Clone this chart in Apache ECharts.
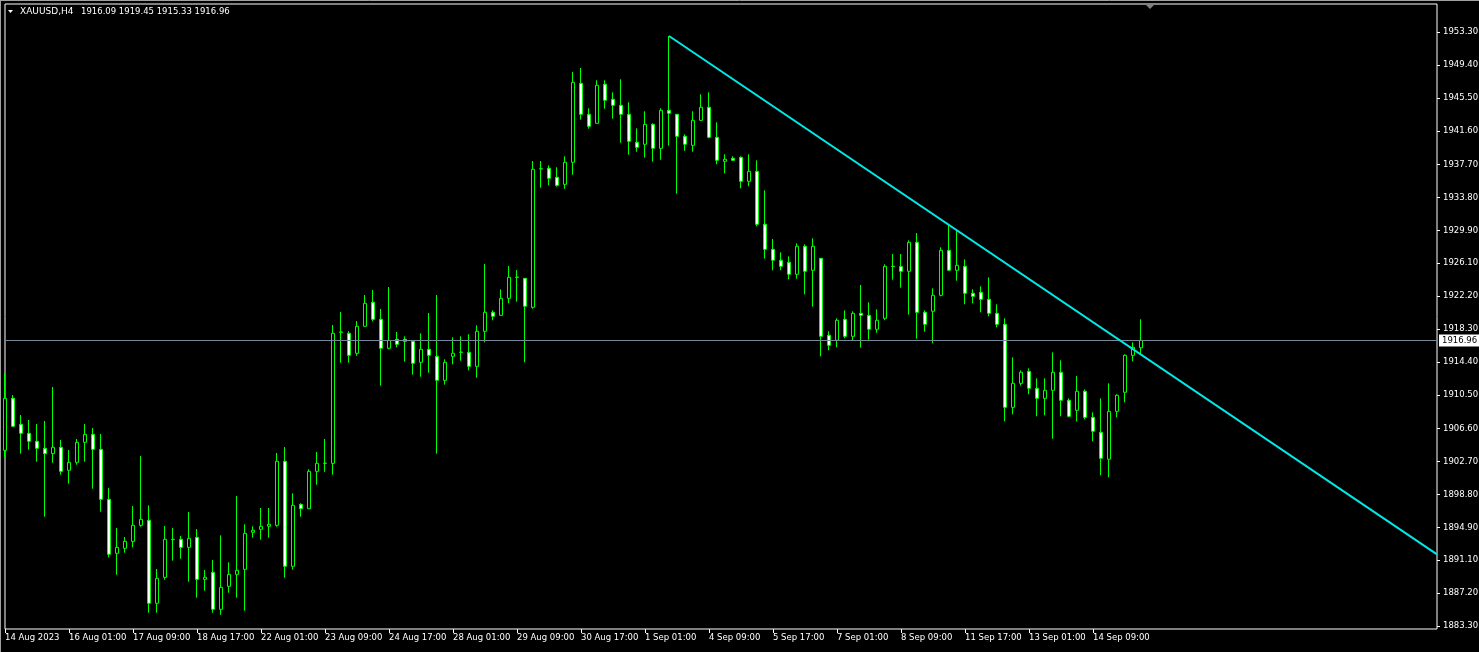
<!DOCTYPE html>
<html>
<head>
<meta charset="utf-8">
<script src="https://cdn.jsdelivr.net/npm/echarts@6/dist/echarts.min.js"></script>
<style>
html,body{margin:0;padding:0;background:#000;overflow:hidden;}
#c{width:1479px;height:652px;}
</style>
</head>
<body>
<div id="c"></div>
<script>
// ---- data (XAUUSD H4) ----
const tradingDays = ['14 Aug','15 Aug','16 Aug','17 Aug','18 Aug','21 Aug','22 Aug','23 Aug','24 Aug','25 Aug',
  '28 Aug','29 Aug','30 Aug','31 Aug','1 Sep','4 Sep','5 Sep','6 Sep','7 Sep','8 Sep',
  '11 Sep','12 Sep','13 Sep','14 Sep','15 Sep'];
const barHours = ['01:00','05:00','09:00','13:00','17:00','21:00'];
const firstLabel = '14 Aug 2023';

const opens = [1904.01,1910.13,1907.07,1906.01,1905.07,1904.24,1903.61,1904.36,1901.65,1902.59,
1904.95,1905.89,1904.12,1898.23,1891.87,1892.46,1893.28,1895.17,1895.76,1885.98,
1889.04,1893.47,1893.52,1892.57,1893.75,1888.80,1889.63,1885.27,1887.98,1889.39,
1889.98,1894.34,1894.70,1895.05,1895.17,1902.71,1890.34,1897.64,1897.12,1901.53,
1902.47,1902.47,1917.91,1917.79,1915.44,1918.62,1921.45,1919.44,1916.03,1917.09,
1917.09,1916.85,1914.38,1915.91,1915.08,1912.25,1915.08,1915.55,1915.55,1913.90,
1918.03,1920.27,1919.91,1921.92,1924.39,1924.27,1920.86,1937.16,1937.24,1936.18,
1935.35,1937.95,1947.25,1943.60,1942.54,1947.14,1945.37,1944.66,1943.60,1940.30,
1940.07,1942.42,1939.59,1944.07,1943.60,1941.01,1939.95,1942.89,1944.43,1940.89,
1938.06,1938.42,1938.53,1935.71,1936.88,1930.64,1927.69,1926.40,1926.16,1924.75,
1928.05,1925.22,1926.63,1917.56,1916.97,1919.44,1917.44,1920.15,1919.91,1918.27,
1919.56,1925.69,1925.66,1925.10,1928.52,1920.27,1920.39,1922.27,1927.57,1925.22,
1925.69,1922.51,1922.62,1921.80,1920.15,1918.85,1909.07,1911.90,1913.31,1911.31,
1910.13,1911.08,1913.20,1909.90,1908.72,1910.96,1907.89,1906.13,1902.95,1908.60,
1910.84,1915.20,1916.09];
const highs = [1913.08,1910.52,1908.17,1907.58,1907.11,1907.46,1911.47,1905.22,1904.04,1905.34,
1907.11,1906.63,1905.93,1899.56,1894.85,1893.79,1897.44,1903.33,1897.52,1890.02,
1895.09,1894.88,1893.91,1896.73,1894.73,1889.90,1891.08,1893.99,1890.81,1898.62,
1895.29,1895.05,1897.21,1897.21,1903.69,1904.39,1898.94,1897.76,1901.77,1903.81,
1905.34,1918.77,1920.30,1918.06,1919.24,1922.31,1922.90,1920.66,1923.25,1917.95,
1917.44,1916.89,1917.79,1920.19,1922.31,1914.73,1917.32,1917.44,1917.68,1918.74,
1925.96,1920.50,1922.98,1925.72,1925.25,1924.27,1938.10,1938.10,1937.59,1937.36,
1938.65,1948.59,1949.06,1944.31,1947.61,1947.61,1946.19,1947.73,1945.02,1941.95,
1943.96,1942.54,1944.31,1952.83,1943.60,1941.24,1943.96,1945.96,1946.19,1942.66,
1938.89,1938.65,1938.65,1938.89,1938.18,1934.65,1928.91,1927.34,1926.87,1928.40,
1928.28,1928.99,1926.63,1918.03,1919.56,1920.50,1920.39,1923.49,1921.45,1920.62,
1925.93,1927.14,1927.14,1928.75,1929.61,1920.50,1923.10,1927.93,1930.56,1929.85,
1926.51,1922.98,1923.33,1924.39,1921.21,1919.56,1914.96,1913.43,1913.67,1912.49,
1912.49,1915.55,1914.61,1910.13,1912.76,1911.19,1908.48,1910.13,1911.90,1910.61,
1915.32,1916.73,1919.45];
const lows = [1903.13,1906.75,1903.61,1904.08,1902.66,1896.18,1902.54,1901.13,1900.07,1902.31,
1902.66,1899.48,1896.77,1891.40,1889.35,1891.94,1892.57,1895.00,1884.87,1884.87,
1888.76,1891.00,1891.23,1888.52,1886.64,1887.46,1884.87,1884.63,1887.22,1886.64,
1885.10,1893.71,1893.47,1893.71,1895.00,1888.99,1889.94,1896.18,1897.12,1899.95,
1901.48,1901.13,1914.33,1914.33,1915.15,1918.62,1919.21,1911.62,1915.91,1916.14,
1914.45,1912.92,1912.68,1913.15,1903.61,1911.74,1914.14,1914.56,1913.43,1912.56,
1916.73,1919.33,1919.91,1921.33,1921.52,1914.38,1920.69,1934.95,1935.23,1935.07,
1934.83,1936.48,1942.97,1941.90,1942.54,1944.26,1943.08,1940.25,1938.84,1939.19,
1938.49,1938.02,1938.25,1939.90,1934.24,1939.31,1939.19,1942.89,1940.77,1937.71,
1936.65,1938.18,1934.88,1935.12,1930.40,1926.59,1925.22,1925.22,1924.16,1924.23,
1922.39,1920.93,1915.08,1915.79,1916.14,1917.20,1916.97,1916.10,1917.04,1917.86,
1919.33,1924.11,1923.17,1919.99,1917.16,1917.98,1916.62,1922.15,1925.22,1923.99,
1921.21,1921.33,1920.27,1919.80,1918.50,1907.42,1908.25,1911.62,1910.61,1908.01,
1908.13,1905.37,1908.01,1907.89,1907.42,1907.66,1905.07,1901.06,1900.82,1907.89,
1909.66,1914.49,1915.33];
const closes = [1910.13,1906.83,1906.01,1905.07,1904.24,1903.61,1904.36,1901.53,1902.59,1904.95,
1905.89,1904.12,1898.23,1891.75,1892.57,1893.28,1895.17,1895.87,1885.98,1888.92,
1893.52,1893.52,1892.57,1893.63,1888.80,1889.04,1885.27,1887.86,1889.39,1889.86,
1894.22,1894.58,1895.05,1895.29,1902.71,1890.34,1897.52,1897.12,1901.53,1902.47,
1902.50,1917.79,1917.95,1915.20,1918.62,1921.33,1919.44,1916.03,1916.97,1916.50,
1916.85,1914.26,1915.91,1915.20,1912.25,1914.38,1915.44,1915.58,1913.90,1918.03,
1920.27,1919.80,1921.92,1924.39,1924.42,1920.98,1937.12,1937.19,1936.06,1935.23,
1937.95,1947.37,1943.60,1942.19,1947.02,1945.25,1944.66,1943.60,1940.42,1939.71,
1942.42,1939.59,1944.07,1943.72,1941.01,1940.07,1942.89,1944.43,1940.89,1938.18,
1938.30,1938.18,1935.71,1936.88,1930.64,1927.69,1926.40,1925.69,1924.75,1928.05,
1925.10,1928.05,1917.44,1916.38,1919.33,1917.44,1920.15,1919.91,1918.27,1919.33,
1925.69,1925.66,1925.10,1928.52,1920.27,1918.85,1922.27,1927.57,1925.22,1925.81,
1922.51,1922.15,1921.80,1920.15,1918.85,1909.07,1911.90,1913.20,1911.31,1910.13,
1911.08,1913.20,1909.90,1908.01,1910.96,1907.89,1906.25,1903.06,1908.60,1910.49,
1915.20,1916.14,1916.96];

const yTickLabels = [1883.30,1887.20,1891.10,1894.90,1898.80,1902.70,1906.60,1910.50,1914.40,
  1918.30,1922.20,1926.10,1929.90,1933.80,1937.70,1941.60,1945.50,1949.40,1953.30];
const bidPrice = 1916.96;
const trendStart = [83, 1952.83];
const trendEnd = [179, 1891.74];
const totalSlots = 180;
const symbolTitle = 'XAUUSD,H4';

// ---- build categories ----
const allSlots = [];
tradingDays.forEach(d => barHours.forEach(h => allSlots.push(d + ' ' + h)));
const categories = allSlots.slice(4, 4 + opens.length);
while (categories.length < totalSlots) categories.push('');
const candles = opens.map((o, i) => [o, closes[i], lows[i], highs[i]]);
const lastIdx = opens.length - 1;
const showTick = (i) => i % 8 === 0 && i <= lastIdx;
const ohlcText = [opens[lastIdx], highs[lastIdx], lows[lastIdx], closes[lastIdx]].map(v => v.toFixed(2)).join(' ');

const FONT = 'DejaVu Sans';
const FS = 8.5;
const chart = echarts.init(document.getElementById('c'));
chart.setOption({
  backgroundColor: '#000',
  animation: false,
  grid: {left: 5, right: 42, top: 4, bottom: 23, containLabel: false, outerBoundsMode: 'none',
    show: true, borderColor: '#ffffff', borderWidth: 1, backgroundColor: '#000'},
  xAxis: {
    type: 'category', data: categories, boundaryGap: false,
    axisLine: {show: false},
    axisTick: {show: true, interval: showTick, length: 4, lineStyle: {color: '#ffffff'}},
    axisLabel: {interval: showTick, color: '#ffffff', fontFamily: FONT, fontSize: FS, align: 'left', margin: 4,
      formatter: (v, i) => i === 0 ? firstLabel : v},
    splitLine: {show: false}
  },
  yAxis: {
    type: 'value', position: 'right', min: 1882.95, max: 1956.60, scale: true,
    axisLine: {show: false},
    splitLine: {show: false},
    axisTick: {show: true, customValues: yTickLabels, length: 3, lineStyle: {color: '#ffffff'}},
    axisLabel: {customValues: yTickLabels, color: '#ffffff', fontFamily: FONT, fontSize: FS, margin: 6,
      formatter: v => v.toFixed(2)}
  },
  series: [{
    type: 'candlestick', data: candles, barWidth: 4,
    itemStyle: {color: '#000000', color0: '#ffffff', borderColor: '#00ff00', borderColor0: '#00ff00', borderColorDoji: '#00ff00', borderWidth: 1},
    markLine: {
      silent: true, symbol: ['none', 'none'], animation: false,
      data: [
        {yAxis: bidPrice, lineStyle: {color: '#778899', width: 1, type: 'solid'},
          label: {show: true, position: 'end', formatter: bidPrice.toFixed(2), color: '#000', backgroundColor: '#ffffff',
            fontFamily: FONT, fontSize: FS, padding: [2, 4, 1, 3], distance: 2}},
        [{coord: trendStart, lineStyle: {color: '#00e8e8', width: 2, type: 'solid'}, label: {show: false}},
         {coord: trendEnd}]
      ]
    }
  }],
  graphic: [
    {type: 'line', shape: {x1: 0, y1: 0.5, x2: 1479, y2: 0.5}, style: {stroke: '#a0a0a0', lineWidth: 1}},
    {type: 'line', shape: {x1: 0.5, y1: 0, x2: 0.5, y2: 652}, style: {stroke: '#a0a0a0', lineWidth: 1}},
    {type: 'polygon', shape: {points: [[8, 10], [13, 10], [10.5, 13]]}, style: {fill: '#ffffff'}},
    {type: 'text', left: 20, top: 7, style: {text: symbolTitle, fill: '#ffffff', font: '9px "DejaVu Sans"'}},
    {type: 'text', left: 81, top: 7, style: {text: ohlcText, fill: '#ffffff', font: '8.5px "DejaVu Sans"'}},
    {type: 'polygon', shape: {points: [[1146, 5], [1154, 5], [1150, 9]]}, style: {fill: '#808080'}}
  ]
});
</script>
</body>
</html>
